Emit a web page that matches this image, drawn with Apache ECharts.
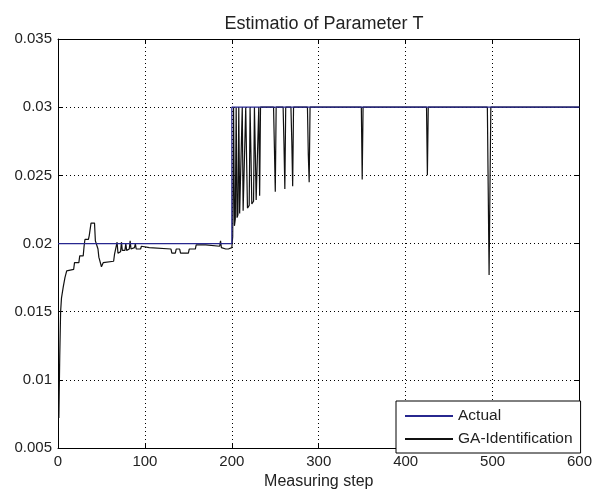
<!DOCTYPE html>
<html><head><meta charset="utf-8">
<script src="https://cdn.jsdelivr.net/npm/echarts@6/dist/echarts.min.js"></script>
<style>html,body{margin:0;padding:0;background:#fff}#c{width:595px;height:495px}</style>
</head><body><div id="c"></div>
<script>
const titleText = 'Estimatio of Parameter T';
const xLabel = 'Measuring step';
const seriesNames = ['Actual', 'GA-Identification'];
const xTicks = [0, 100, 200, 300, 400, 500, 600];
const yTicks = ['0.005', '0.01', '0.015', '0.02', '0.025', '0.03', '0.035'];

const actualSteps = [0, 200, 200, 600];
const actualValues = [0.02, 0.02, 0.03, 0.03];

const gaSteps = [1, 2, 3, 4, 6, 8, 10, 12, 18, 19, 24, 25, 29, 30, 31, 35, 36, 37, 38, 42, 43, 44, 46, 47, 49, 50, 52, 54, 64, 65, 67, 68, 69, 72, 73, 74, 77, 78, 79, 82, 83, 84, 88, 89, 90, 95, 96, 98, 105, 130, 131, 135, 136, 140, 141, 150, 151, 158, 159, 170, 171, 186, 187, 188, 193, 196, 198, 200,
  201, 202, 203, 204, 205, 206, 207, 208, 209, 211, 212, 213, 215, 216, 217, 218, 220, 221, 222, 223, 225, 226, 227, 228, 230, 231, 232, 233, 248, 249, 250, 251, 259, 260, 261, 262, 268, 269, 270, 271, 287, 288, 289, 290, 349, 350, 351, 424, 425, 426, 494, 495, 496, 497, 498, 600];
const gaValues = [0.0072, 0.0117, 0.0150, 0.0160, 0.0168, 0.0175, 0.0180, 0.0181, 0.0181, 0.0186, 0.0186, 0.0191, 0.0191, 0.0198, 0.0203, 0.0203, 0.0206, 0.0206, 0.0215, 0.0215, 0.0202, 0.0200, 0.0196, 0.0190, 0.0190, 0.0183, 0.0186, 0.0187, 0.0187, 0.0192, 0.0192, 0.0201, 0.0193, 0.0194, 0.0201, 0.0195, 0.0195, 0.0200, 0.0195, 0.0196, 0.0202, 0.0196, 0.0197, 0.0200, 0.0196, 0.0196, 0.0198, 0.0197, 0.0197, 0.0196, 0.0193, 0.0193, 0.0196, 0.0196, 0.0193, 0.0193, 0.0196, 0.0196, 0.0199, 0.0199, 0.0198, 0.0198, 0.0202, 0.0197, 0.0196, 0.0196, 0.0197, 0.0197,
  0.0205, 0.0300, 0.0213, 0.0218, 0.0300, 0.0219, 0.0221, 0.0300, 0.0222, 0.0223, 0.0300, 0.0224, 0.0225, 0.0300, 0.0262, 0.0226, 0.0228, 0.0300, 0.0266, 0.0229, 0.0231, 0.0300, 0.0268, 0.0232, 0.0233, 0.0300, 0.0235, 0.0300, 0.0300, 0.0270, 0.0238, 0.0300, 0.0300, 0.0273, 0.0240, 0.0300, 0.0300, 0.0275, 0.0242, 0.0300, 0.0300, 0.0265, 0.0245, 0.0300, 0.0300, 0.0247, 0.0300, 0.0300, 0.0250, 0.0300, 0.0300, 0.0239, 0.0177, 0.0240, 0.0300, 0.0300];

const actualData = actualSteps.map((s, i) => [s, actualValues[i]]);
const gaData = gaSteps.map((s, i) => [s, gaValues[i]]);

const FONT = '"Liberation Sans", Arial, sans-serif';
const TXT = '#222';
const BLUE = '#27278f';
const yFmt = v => { const s = String(parseFloat(v.toFixed(3))); return yTicks.includes(s) ? s : ''; };

const baseX = {
  type: 'value', min: xTicks[0], max: xTicks[xTicks.length - 1], interval: 100,
  axisLine: { show: true, onZero: false, lineStyle: { color: '#000', width: 1 } },
  axisTick: { show: true, inside: true, length: 5, lineStyle: { color: '#000' } }
};
const baseY = {
  type: 'value', min: 0.005, max: 0.035, interval: 0.005,
  axisLine: { show: true, onZero: false, lineStyle: { color: '#000', width: 1 } },
  axisTick: { show: true, inside: true, length: 5, lineStyle: { color: '#000' } }
};

const chart = echarts.init(document.getElementById('c'), null, { renderer: 'canvas' });
chart.setOption({
  animation: false,
  backgroundColor: '#fff',
  title: { text: titleText, left: 319, top: 10, textAlign: 'center',
    textStyle: { fontFamily: FONT, fontSize: 18, fontWeight: 'normal', color: TXT } },
  grid: { left: 58, top: 39, right: 14, bottom: 43, show: false },
  legend: {
    orient: 'vertical', left: 396, top: 401,
    padding: [7, 8, 6, 9], itemGap: 7, itemWidth: 48, itemHeight: 2, icon: 'rect',
    backgroundColor: '#fff', borderColor: '#000', borderWidth: 1,
    textStyle: { fontFamily: FONT, fontSize: 15.5, color: TXT, lineHeight: 16 },
    data: seriesNames
  },
  xAxis: [
    Object.assign({}, baseX, {
      position: 'bottom',
      name: xLabel, nameLocation: 'middle', nameGap: 22,
      nameTextStyle: { fontFamily: FONT, fontSize: 16, color: TXT },
      axisLabel: { fontFamily: FONT, fontSize: 15, color: TXT, margin: 6 },
      splitLine: { show: true, lineStyle: { color: '#000', type: [1, 3], width: 1 } }
    }),
    Object.assign({}, baseX, { position: 'top', axisLabel: { show: false }, splitLine: { show: false } })
  ],
  yAxis: [
    Object.assign({}, baseY, {
      position: 'left',
      axisLabel: { fontFamily: FONT, fontSize: 15, color: TXT, margin: 6, formatter: yFmt },
      splitLine: { show: true, lineStyle: { color: '#000', type: [1, 3], width: 1 } }
    }),
    Object.assign({}, baseY, { position: 'right', axisLabel: { show: false }, splitLine: { show: false } })
  ],
  series: [
    { name: seriesNames[1], type: 'line', data: gaData, symbol: 'none', z: 3,
      lineStyle: { color: '#111', width: 1.2 }, itemStyle: { color: '#111' } },
    { name: seriesNames[0], type: 'line', data: actualData, symbol: 'none', z: 4,
      lineStyle: { color: BLUE, width: 1.2 }, itemStyle: { color: BLUE } }
  ]
});
</script></body></html>
